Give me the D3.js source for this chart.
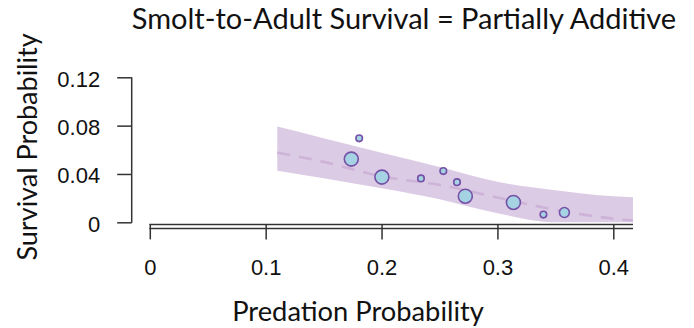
<!DOCTYPE html>
<html>
<head>
<meta charset="utf-8">
<script src="https://cdn.jsdelivr.net/npm/d3@7"></script>
<style>
  html, body { margin: 0; padding: 0; background: #fff; }
  svg { display: block; }
</style>
</head>
<body>
<div id="chart"></div>
<script>
// Predation probability grid for the fitted curve and its credible band
const fitX     = [0.11, 0.15, 0.20, 0.25, 0.30, 0.35, 0.40, 0.417];
const fitMid   = [0.0576, 0.0500, 0.0380, 0.0310, 0.0205, 0.0104, 0.0030, 0.0015];
const fitLower = [0.0426, 0.0365, 0.0282, 0.0191, 0.0075, 0.0000, 0.0000, 0.0000];
const fitUpper = [0.0792, 0.0695, 0.0575, 0.0457, 0.0336, 0.0266, 0.0216, 0.0208];

// Observed years: predation, survival, relative weight
const obsPred     = [0.1739, 0.1807, 0.2003, 0.2340, 0.2533, 0.2651, 0.2723, 0.3138, 0.3397, 0.3578];
const obsSurv     = [0.0523, 0.0695, 0.0374, 0.0363, 0.0424, 0.0332, 0.0216, 0.0164, 0.0064, 0.0081];
const obsWeight   = [1.00,   0.22,   1.00,   0.22,   0.22,   0.22,   1.00,   1.00,   0.22,   0.50];

const xTicks = [0, 0.1, 0.2, 0.3, 0.4];
const yTicks = [0, 0.04, 0.08, 0.12];
const xTickLabels = ["0", "0.1", "0.2", "0.3", "0.4"];
const yTickLabels = ["0", "0.04", "0.08", "0.12"];

const titleText = "Smolt-to-Adult Survival = Partially Additive";
const xTitle = "Predation Probability";
const yTitle = "Survival Probability";

const W = 694, H = 328;
const svg = d3.select("#chart").append("svg").attr("width", W).attr("height", H);

const x = d3.scaleLinear().domain([0, 0.4]).range([149.8, 613.3]);
const y = d3.scaleLinear().domain([0, 0.12]).range([222.3, 77.3]);
const r = d3.scaleSqrt().domain([0, 1]).range([0, 7]);

const tickFont = "'Liberation Sans', Arial, sans-serif";
const labelFont = "Lato, 'Open Sans', sans-serif";
const axisColor = "#333";

// Credible band
const fit = fitX.map((v, i) => ({ x: v, mid: fitMid[i], lo: fitLower[i], hi: fitUpper[i] }));
svg.append("path")
  .datum(fit)
  .attr("fill", "#dccbe4")
  .attr("d", d3.area().x(d => x(d.x)).y0(d => y(d.lo)).y1(d => y(d.hi)).curve(d3.curveMonotoneX));

// Median fitted line
svg.append("path")
  .datum(fit)
  .attr("fill", "none")
  .attr("stroke", "#cdb3d8")
  .attr("stroke-width", 2.6)
  .attr("stroke-dasharray", "13,9")
  .attr("d", d3.line().x(d => x(d.x)).y(d => y(d.mid)).curve(d3.curveMonotoneX));

// Observations
const obs = obsPred.map((v, i) => ({ x: v, y: obsSurv[i], w: obsWeight[i] }));
svg.append("g").selectAll("circle")
  .data(obs)
  .join("circle")
  .attr("cx", d => x(d.x))
  .attr("cy", d => y(d.y))
  .attr("r", d => r(d.w))
  .attr("fill", "#a6d3e3")
  .attr("stroke", "#7450a6")
  .attr("stroke-width", 1.6);

// Y axis
const yAxis = svg.append("g")
  .attr("transform", "translate(131.7,0)")
  .call(d3.axisLeft(y).tickValues(yTicks).tickFormat((d, i) => yTickLabels[i]).tickSize(14.5).tickPadding(17));
yAxis.select(".domain").attr("d", `M0,${y(0.12)}V${y(0) + 0.5}`);
yAxis.selectAll("line, path").attr("stroke", axisColor).attr("stroke-width", 1.5);
yAxis.selectAll("text")
  .attr("font-family", tickFont).attr("font-size", 22).attr("fill", "#111")
  .attr("dy", "0.40em");

// X axis: double rule with downward ticks
const xEnd = x(0.417);
const xAxisY = 224.4;
svg.append("line").attr("x1", x(0) - 0.5).attr("x2", xEnd).attr("y1", xAxisY).attr("y2", xAxisY)
  .attr("stroke", axisColor).attr("stroke-width", 1.5);
svg.append("line").attr("x1", x(0) - 0.5).attr("x2", xEnd).attr("y1", xAxisY + 4).attr("y2", xAxisY + 4)
  .attr("stroke", axisColor).attr("stroke-width", 1.5);
const xAxis = svg.append("g")
  .attr("transform", `translate(0,${xAxisY})`)
  .call(d3.axisBottom(x).tickValues(xTicks).tickFormat((d, i) => xTickLabels[i]).tickSize(15).tickPadding(20));
xAxis.select(".domain").remove();
xAxis.selectAll("line").attr("stroke", axisColor).attr("stroke-width", 1.5);
xAxis.selectAll("text")
  .attr("font-family", tickFont).attr("font-size", 22).attr("fill", "#111");

// Titles
svg.append("text")
  .attr("x", 404).attr("y", 29)
  .attr("text-anchor", "middle")
  .attr("font-family", labelFont).attr("font-size", 29).attr("fill", "#111")
  .text(titleText);

svg.append("text")
  .attr("x", 358).attr("y", 320.5)
  .attr("text-anchor", "middle")
  .attr("font-family", labelFont).attr("font-size", 27.3).attr("fill", "#111")
  .text(xTitle);

svg.append("text")
  .attr("transform", "translate(37,147) rotate(-90)")
  .attr("text-anchor", "middle")
  .attr("font-family", labelFont).attr("font-size", 27).attr("fill", "#111")
  .text(yTitle);
</script>
</body>
</html>
